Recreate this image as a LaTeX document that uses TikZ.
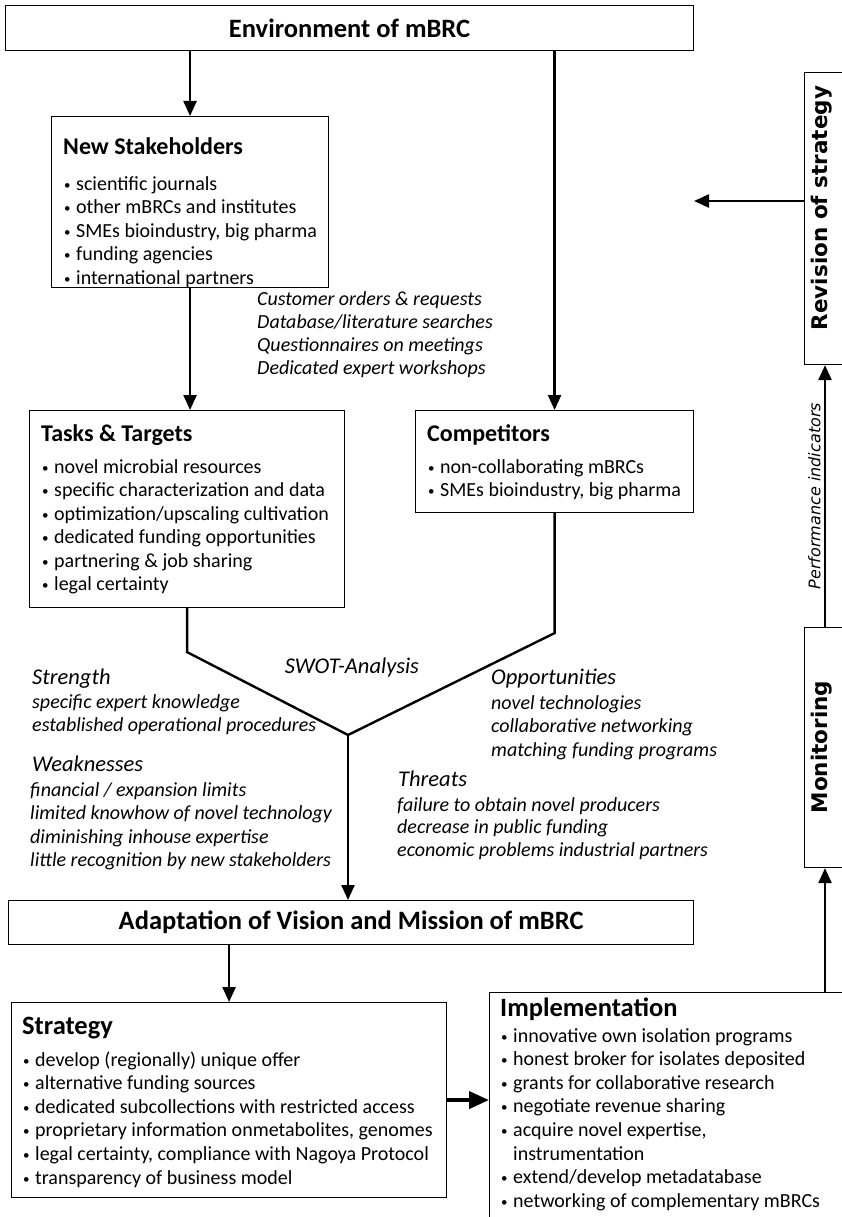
\documentclass[tikz,border=0pt]{standalone}
\usepackage{fontspec}
\setmainfont{Carlito}
\newfontfamily\verdfont{DejaVu Sans}
\usetikzlibrary{arrows.meta,calc}

\tikzset{
  box/.style={draw, line width=1.1pt, inner sep=0pt, anchor=north west},
  title/.style={font=\fontsize{26.5}{30}\selectfont\bfseries},
  flow/.style={line width=2.4pt, -{Triangle[width=13pt,length=15pt]}},
  bigflow/.style={line width=4pt, -{Triangle[width=17pt,length=20pt]}},
  head/.style={anchor=base west, inner sep=0pt, font=\fontsize{24}{28}\selectfont\bfseries},
  bighead/.style={head, font=\fontsize{26.5}{30}\selectfont\bfseries},
  line/.style={anchor=base west, inner sep=0pt, font=\fontsize{20}{24}\selectfont},
  item/.style={line, execute at begin node={\makebox[13pt][l]{\hspace{1pt}\raisebox{1pt}{\fontsize{13}{13}\selectfont\textbullet}}}},
  note/.style={anchor=base west, inner sep=0pt, font=\fontsize{20}{24}\selectfont\itshape},
  notehead/.style={note, font=\fontsize{22.5}{26}\selectfont\itshape},
  side/.style={rotate=90, font=\verdfont\fontsize{21.5}{25}\selectfont\bfseries}
}

\begin{document}
\begin{tikzpicture}[x=1pt,y=-1pt]
  \clip (0,0) rectangle (842,1217);

  % boxes
  \node[box, title, minimum width=688pt, minimum height=45pt] (env) at (5,5) {Environment of mBRC};
  \node[box, minimum width=277pt, minimum height=171pt] (stake) at (51,116) {};
  \node[box, minimum width=315pt, minimum height=197pt] (tasks) at (29,410) {};
  \node[box, minimum width=278pt, minimum height=102pt] (comp) at (415,410) {};
  \node[box, minimum width=60pt, minimum height=292pt] (revis) at (804,72) {};
  \node[box, minimum width=60pt, minimum height=240pt] (monit) at (804,627) {};
  \node[box, title, minimum width=685pt, minimum height=44pt] (adapt) at (8,900) {Adaptation of Vision and Mission of mBRC};
  \node[box, minimum width=435pt, minimum height=195pt] (strat) at (11,1002) {};
  \node[box, minimum width=380pt, minimum height=260pt] (impl) at (489,992) {};

  \node[side] (revis-t) at (822,208) {Revision of strategy};
  \node[side] (monit-t) at (822,747) {Monitoring};

  % box contents
  \node[head] (stake-h) at (63,155) {New Stakeholders};
  \foreach \t [count=\i] in {scientific journals, other mBRCs and institutes,
      {SMEs bioindustry, big pharma}, funding agencies, international partners}
    \node[item] (stake-\i) at (63,{166.5+23.5*\i}) {\t};

  \node[head] (tasks-h) at (41,441) {Tasks \& Targets};
  \foreach \t [count=\i] in {novel microbial resources, specific characterization and data,
      optimization/upscaling cultivation, dedicated funding opportunities,
      partnering \& job sharing, legal certainty}
    \node[item] (tasks-\i) at (41,{449.5+23.5*\i}) {\t};

  \node[head] (comp-h) at (427,441) {Competitors};
  \foreach \t [count=\i] in {non-collaborating mBRCs, {SMEs bioindustry, big pharma}}
    \node[item] (comp-\i) at (427,{449.5+23.5*\i}) {\t};

  \node[bighead] (strat-h) at (22,1034) {Strategy};
  \foreach \t [count=\i] in {develop (regionally) unique offer, alternative funding sources,
      dedicated subcollections with restricted access,
      {proprietary information onmetabolites, genomes},
      {legal certainty, compliance with Nagoya Protocol}, transparency of business model}
    \node[item] (strat-\i) at (22,{1042.4+23.6*\i}) {\t};

  \node[bighead] (impl-h) at (500,1016) {Implementation};
  \foreach \n/\t in {1/innovative own isolation programs, 2/honest broker for isolates deposited,
      3/grants for collaborative research, 4/negotiate revenue sharing,
      5/{acquire novel expertise,}, 7/{extend/develop metadatabase},
      8/networking of complementary mBRCs}
    \node[item] (impl-\n) at (500,{1018.4+23.6*\n}) {\t};
  \node[line] (impl-6) at (500,{1018.4+23.6*6}) {\hspace{13pt}instrumentation};

  % notes
  \node[note] (sources) at (257,305) {Customer orders \& requests};
  \node[note] (sources-2) at (257,328) {Database/literature searches};
  \node[note] (sources-3) at (257,351) {Questionnaires on meetings};
  \node[note] (sources-4) at (257,374) {Dedicated expert workshops};

  \node[notehead, anchor=center] (swot-t) at (352,667) {SWOT-Analysis};

  \node[notehead] (str) at (32,684) {Strength};
  \foreach \y/\t in {708/specific expert knowledge, 731/established operational procedures}
    \node[note] at (32,\y) {\t};
  \node[notehead] (weak) at (32,771) {Weaknesses};
  \foreach \y/\t in {796/{financial / expansion limits}, 819/limited knowhow of novel technology,
      843/diminishing inhouse expertise, 866/little recognition by new stakeholders}
    \node[note] at (30,\y) {\t};

  \node[notehead] (opp) at (491,684) {Opportunities};
  \foreach \y/\t in {709/novel technologies, 732/collaborative networking, 756/matching funding programs}
    \node[note] at (491,\y) {\t};
  \node[notehead] (thr) at (398,786) {Threats};
  \foreach \y/\t in {811/failure to obtain novel producers, 833/decrease in public funding,
      856/economic problems industrial partners}
    \node[note] at (397,\y) {\t};

  % connectors
  \coordinate (swot) at (348,735);
  \coordinate (mline) at ($(monit.south west)+(21,0)$);
  \coordinate (revend) at (694,201);

  \draw[flow] (env.south -| stake.north) -- (stake.north);
  \draw[flow] (stake.south) -- (stake.south |- tasks.north);
  \draw[flow] (env.south -| comp.north) -- (comp.north);
  \draw[line width=2.4pt] (tasks.south) -- ++(0,44) -- (swot);
  \draw[line width=2.4pt] (comp.south) -- ++(0,120) -- (swot);
  \draw[flow] (swot) -- (swot |- adapt.north);
  \draw[flow] (adapt.south -| strat.north) -- (strat.north);
  \draw[bigflow] (strat.east) -- (strat.east -| impl.west);
  \draw[flow] (impl.north -| mline) -- (mline);
  \draw[flow] (monit.north -| mline) -- (revis.south -| mline)
    node[midway, rotate=90, anchor=south, font=\verdfont\fontsize{16}{19}\selectfont\itshape] (perf) {Performance indicators};
  \draw[flow] (revis.west |- revend) -- (revend);
\end{tikzpicture}
\end{document}
